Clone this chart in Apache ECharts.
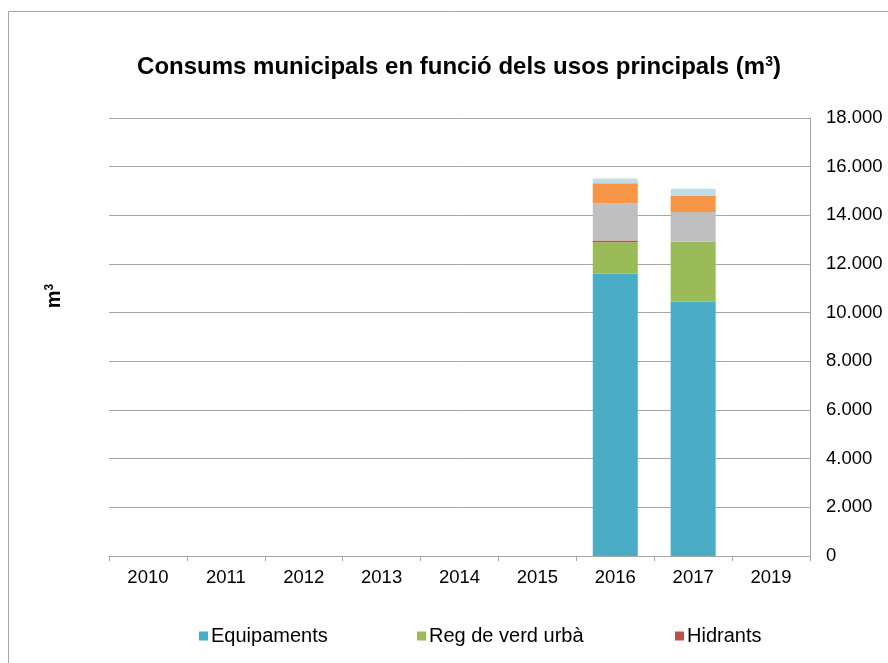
<!DOCTYPE html>
<html>
<head>
    <meta charset="utf-8">
    <title>Consums municipals</title>
    <script src="https://cdn.jsdelivr.net/npm/echarts@6/dist/echarts.min.js"></script>
    <style>
        html, body { margin: 0; padding: 0; background: #fff; }
        #main { width: 888px; height: 663px; }
    </style>
</head>
<body>
    <div id="main"></div>
    <script type="text/javascript">
        // dades llegides del gràfic
        var years = ['2010', '2011', '2012', '2013', '2014', '2015', '2016', '2017', '2019'];
        var equipaments = [null, null, null, null, null, null, 11600, 10450, null];
        var regVerd     = [null, null, null, null, null, null, 1290, 2470, null];
        var hidrants    = [null, null, null, null, null, null, 80, 0, null];
        var serie4      = [null, null, null, null, null, null, 1530, 1220, null];
        var serie5      = [null, null, null, null, null, null, 820, 660, null];
        var serie6      = [null, null, null, null, null, null, 190, 290, null];

        var font = 'Liberation Sans, Arial, sans-serif';

        var myChart = echarts.init(document.getElementById('main'));

        function barSerie(name, data, color) {
            return {
                name: name,
                type: 'bar',
                stack: 'total',
                barWidth: 45,
                data: data,
                itemStyle: { color: color }
            };
        }

        function legendAt(name, left) {
            return {
                data: [name],
                left: left,
                top: 621,
                itemWidth: 9,
                itemHeight: 9,
                itemGap: 0,
                icon: 'rect',
                textStyle: { fontFamily: font, fontSize: 20, color: '#000', padding: [0, 0, 0, -2] }
            };
        }

        var option = {
            animation: false,
            title: {
                text: 'Consums municipals en funció dels usos principals (m{s|3})',
                left: 454,
                textAlign: 'center',
                top: 50,
                textStyle: {
                    fontFamily: font,
                    fontSize: 24,
                    fontWeight: 'bold',
                    color: '#000',
                    rich: {
                        s: { fontFamily: font, fontSize: 14, fontWeight: 'bold', verticalAlign: 'top', padding: [0, 0, 10, 0] }
                    }
                }
            },
            legend: [
                legendAt('Equipaments', 194),
                legendAt('Reg de verd urbà', 412),
                legendAt('Hidrants', 670)
            ],
            grid: { left: 109, right: 78, top: 118, bottom: 107 },
            xAxis: {
                type: 'category',
                data: years,
                axisLine: { lineStyle: { color: '#a6a6a6' } },
                axisTick: { show: true, length: 5, lineStyle: { color: '#a6a6a6' } },
                axisLabel: { fontFamily: font, fontSize: 18.5, color: '#000', margin: 12 }
            },
            yAxis: {
                type: 'value',
                position: 'right',
                min: 0,
                max: 18000,
                interval: 2000,
                axisLine: { show: true, lineStyle: { color: '#a6a6a6' } },
                axisTick: { show: false },
                splitLine: { lineStyle: { color: '#a6a6a6' } },
                axisLabel: {
                    fontFamily: font,
                    fontSize: 18.5,
                    color: '#000',
                    margin: 16,
                    formatter: function (v) {
                        return String(v).replace(/\B(?=(\d{3})+(?!\d))/g, '.');
                    }
                }
            },
            graphic: [
                {
                    type: 'polyline',
                    shape: { points: [[8.5, 700], [8.5, 11.5], [900, 11.5]] },
                    style: { stroke: '#a6a6a6', lineWidth: 1, fill: null }
                },
                {
                    type: 'text',
                    x: 54,
                    y: 296,
                    rotation: Math.PI / 2,
                    style: {
                        text: 'm{s|3}',
                        fontFamily: font,
                        fontSize: 20,
                        fontWeight: 'bold',
                        fill: '#000',
                        align: 'center',
                        verticalAlign: 'middle',
                        rich: {
                            s: { fontFamily: font, fontSize: 12, fontWeight: 'bold', verticalAlign: 'top', padding: [0, 0, 9, 0] }
                        }
                    }
                }
            ],
            series: [
                barSerie('Equipaments', equipaments, '#4bacc6'),
                barSerie('Reg de verd urbà', regVerd, '#9bbb59'),
                barSerie('Hidrants', hidrants, '#c0504d'),
                barSerie('Sèrie 4', serie4, '#bfbfbf'),
                barSerie('Sèrie 5', serie5, '#f79646'),
                barSerie('Sèrie 6', serie6, '#bedde8')
            ]
        };

        myChart.setOption(option);
    </script>
</body>
</html>
